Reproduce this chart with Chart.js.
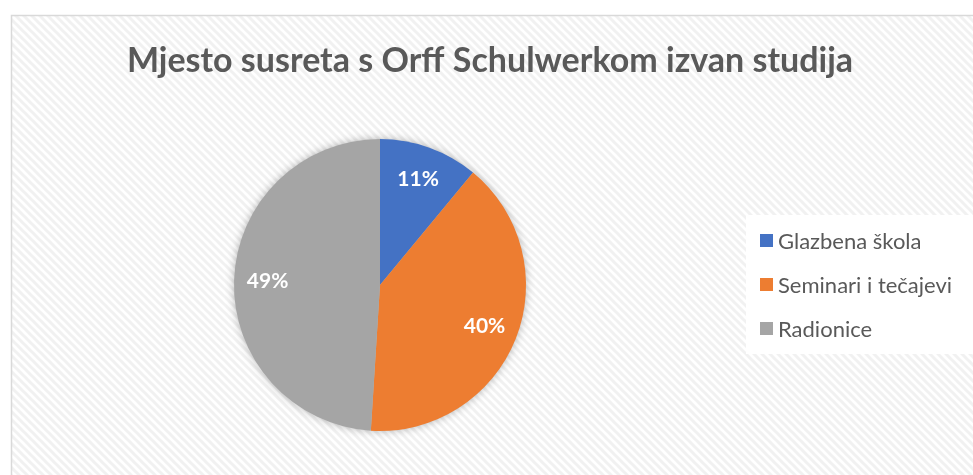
<!DOCTYPE html>
<html>
<head>
<meta charset="utf-8">
<script src="https://cdn.jsdelivr.net/npm/chart.js@4.4.1/dist/chart.umd.min.js"></script>
<style>
  html, body { margin: 0; padding: 0; background: #fff; }
  #wrap { position: relative; width: 973px; height: 475px; }
</style>
</head>
<body>
<div id="wrap"><canvas id="myPieChart"></canvas></div>
<script>
const chartTitle = 'Mjesto susreta s Orff Schulwerkom izvan studija';
const categories = ['Glazbena škola', 'Seminari i tečajevi', 'Radionice'];
const shares = [11, 40, 49];
const sliceColors = ['#4472C4', '#ED7D31', '#A5A5A5'];

const textGray = '#595959';
const fontFamily = 'Lato, "Open Sans", sans-serif';

// diagonal hatch like the office chart area fill
function makeHatch(ctx) {
    const p = document.createElement('canvas');
    p.width = 8; p.height = 8;
    const c = p.getContext('2d');
    c.fillStyle = '#ffffff';
    c.fillRect(0, 0, 8, 8);
    c.strokeStyle = '#f1f1f1';
    c.lineWidth = 3;
    c.beginPath();
    c.moveTo(-8, -8); c.lineTo(16, 16);
    c.moveTo(-8, 0); c.lineTo(8, 16);
    c.moveTo(0, -8); c.lineTo(16, 8);
    c.stroke();
    return ctx.createPattern(p, 'repeat');
}

const backdrop = {
    id: 'backdrop',
    beforeDraw(chart) {
        const ctx = chart.ctx;
        ctx.save();
        ctx.fillStyle = '#fff';
        ctx.fillRect(0, 0, chart.width, chart.height);
        ctx.fillStyle = makeHatch(ctx);
        ctx.fillRect(12, 16, chart.width, chart.height);
        ctx.strokeStyle = '#d9d9d9';
        ctx.lineWidth = 1.5;
        ctx.beginPath();
        ctx.moveTo(11.5, chart.height + 2);
        ctx.lineTo(11.5, 15.5);
        ctx.lineTo(chart.width + 2, 15.5);
        ctx.stroke();

        // title
        ctx.fillStyle = textGray;
        ctx.font = 'bold 34px ' + fontFamily;
        ctx.textAlign = 'center';
        ctx.textBaseline = 'middle';
        ctx.fillText(chartTitle, 490, 61);

        // legend panel
        ctx.fillStyle = '#fff';
        ctx.fillRect(746, 215, chart.width - 746, 139);
        ctx.font = '22px ' + fontFamily;
        ctx.textAlign = 'left';
        chart.data.labels.forEach((label, i) => {
            const y = 241 + i * 44;
            ctx.fillStyle = chart.data.datasets[0].backgroundColor[i];
            ctx.fillRect(760, y - 7, 13, 13);
            ctx.fillStyle = textGray;
            ctx.fillText(label, 778, y + 1);
        });
        ctx.restore();
    },
    beforeDatasetsDraw(chart) {
        // soft shadow under the pie
        const arc = chart.getDatasetMeta(0).data[0];
        if (!arc) return;
        const ctx = chart.ctx;
        ctx.save();
        ctx.shadowColor = 'rgba(0,0,0,0.35)';
        ctx.shadowBlur = 10;
        ctx.fillStyle = '#bbb';
        ctx.beginPath();
        ctx.arc(arc.x, arc.y, arc.outerRadius - 1, 0, Math.PI * 2);
        ctx.fill();
        ctx.restore();
    },
    afterDatasetsDraw(chart) {
        const ctx = chart.ctx;
        ctx.save();
        ctx.fillStyle = '#fff';
        ctx.font = 'bold 21px ' + fontFamily;
        ctx.textAlign = 'center';
        ctx.textBaseline = 'middle';
        chart.getDatasetMeta(0).data.forEach((arc, i) => {
            const p = arc.getProps(['x', 'y', 'startAngle', 'endAngle', 'outerRadius'], true);
            const mid = (p.startAngle + p.endAngle) / 2;
            const r = p.outerRadius * 0.77;
            ctx.fillText(shares[i] + '%', p.x + Math.cos(mid) * r, p.y + Math.sin(mid) * r);
        });
        ctx.restore();
    }
};

const ctx = document.getElementById('myPieChart').getContext('2d');

window.myPieChart = new Chart(ctx, {
    type: 'pie',
    data: {
        labels: categories,
        datasets: [{
            data: shares,
            backgroundColor: sliceColors,
            borderWidth: 0,
            hoverOffset: 0
        }]
    },
    options: {
        responsive: true,
        maintainAspectRatio: false,
        animation: false,
        layout: {
            padding: { top: 139, bottom: 44, left: 0, right: 213 }
        },
        plugins: {
            legend: { display: false },
            tooltip: { enabled: false }
        }
    },
    plugins: [backdrop]
});
</script>
</body>
</html>
